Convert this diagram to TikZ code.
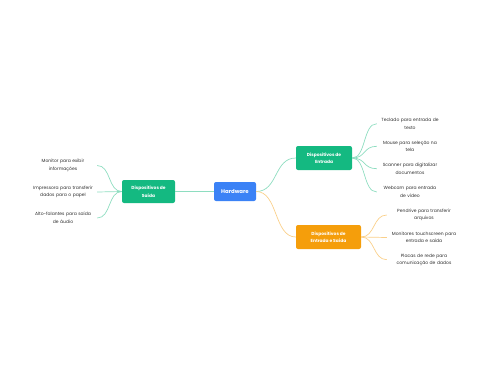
\documentclass[tikz,border=0pt]{standalone}
\usepackage{fontspec}
\setmainfont{Poppins}
\definecolor{hwblue}{HTML}{3B82F6}
\definecolor{topgreen}{HTML}{14B981}
\definecolor{toporange}{HTML}{F59E0B}
\definecolor{greenline}{HTML}{8EDDC0}
\definecolor{orangeline}{HTML}{FAD08A}
\definecolor{leafgray}{HTML}{2E2E2E}
\begin{document}
\begin{tikzpicture}[
    x=1pt, y=-1pt, every node/.style={font=\fontsize{4.5}{7.5}\selectfont},
    topic/.style={rectangle, rounded corners=2pt, text=white, align=center, inner sep=0pt, minimum height=24pt, font=\fontsize{4.4}{7.5}\selectfont\bfseries},
    leaf/.style={align=center, inner xsep=1pt, inner ysep=0pt, text=leafgray},
    glink/.style={draw=greenline, line width=0.7pt},
    olink/.style={draw=orangeline, line width=0.7pt}
]
\useasboundingbox (0,0) rectangle (480,384);
\node[topic, fill=hwblue, minimum width=42pt, minimum height=19pt, font=\fontsize{5.4}{7}\selectfont\bfseries] (hardware) at (235,191.5) {Hardware};
\node[topic, fill=topgreen, minimum width=53pt, minimum height=23pt] (saida) at (148.5,191.5) {Dispositivos de\\Saída};
\node[topic, fill=topgreen, minimum width=56pt] (entrada) at (324,158) {Dispositivos de\\Entrada};
\node[topic, fill=toporange, minimum width=65pt] (es) at (328.5,237) {Dispositivos de\\Entrada e Saída};

\node[leaf, text width=66pt] (monitor) at (63,165.5) {Monitor para exibir\\informações};
\node[leaf, text width=66pt] (impressora) at (63,192) {Impressora para transferir\\dados para o papel};
\node[leaf, text width=66pt] (altofalantes) at (63,218) {Alto-falantes para saída\\de áudio};

\node[leaf, text width=64pt] (teclado) at (410,123.7) {Teclado para entrada de\\texto};
\node[leaf, text width=64pt] (mouse) at (410,146.3) {Mouse para seleção na\\tela};
\node[leaf, text width=64pt] (scanner) at (410,168.7) {Scanner para digitalizar\\documentos};
\node[leaf, text width=64pt] (webcam) at (410,192) {Webcam para entrada\\de vídeo};

\node[leaf, text width=72pt] (pendrive) at (424,215) {Pendrive para transferir\\arquivos};
\node[leaf, text width=72pt] (touch) at (424,237.5) {Monitores touchscreen para\\entrada e saída};
\node[leaf, text width=72pt] (placas) at (424,259.7) {Placas de rede para\\comunicação de dados};

\draw[glink] (hardware) -- (saida);
\draw[glink] (hardware.east) .. controls +(22,0) and +(-22,0) .. (entrada.west);
\draw[olink] (hardware.east) .. controls +(22,0) and +(-22,0) .. (es.west);

\draw[glink] (saida.west) .. controls +(-14,0) and +(14,0) .. (monitor.east);
\draw[glink] (saida.west) -- (impressora.east);
\draw[glink] (saida.west) .. controls +(-14,0) and +(14,0) .. (altofalantes.east);

\draw[glink] (entrada.east) .. controls +(14,0) and +(-14,0) .. (teclado.west);
\draw[glink] (entrada.east) .. controls +(14,0) and +(-14,0) .. (mouse.west);
\draw[glink] (entrada.east) .. controls +(14,0) and +(-14,0) .. (scanner.west);
\draw[glink] (entrada.east) .. controls +(14,0) and +(-14,0) .. (webcam.west);

\draw[olink] (es.east) .. controls +(14,0) and +(-14,0) .. (pendrive.west);
\draw[olink] (es.east) -- (touch.west);
\draw[olink] (es.east) .. controls +(14,0) and +(-14,0) .. (placas.west);
\end{tikzpicture}
\end{document}
